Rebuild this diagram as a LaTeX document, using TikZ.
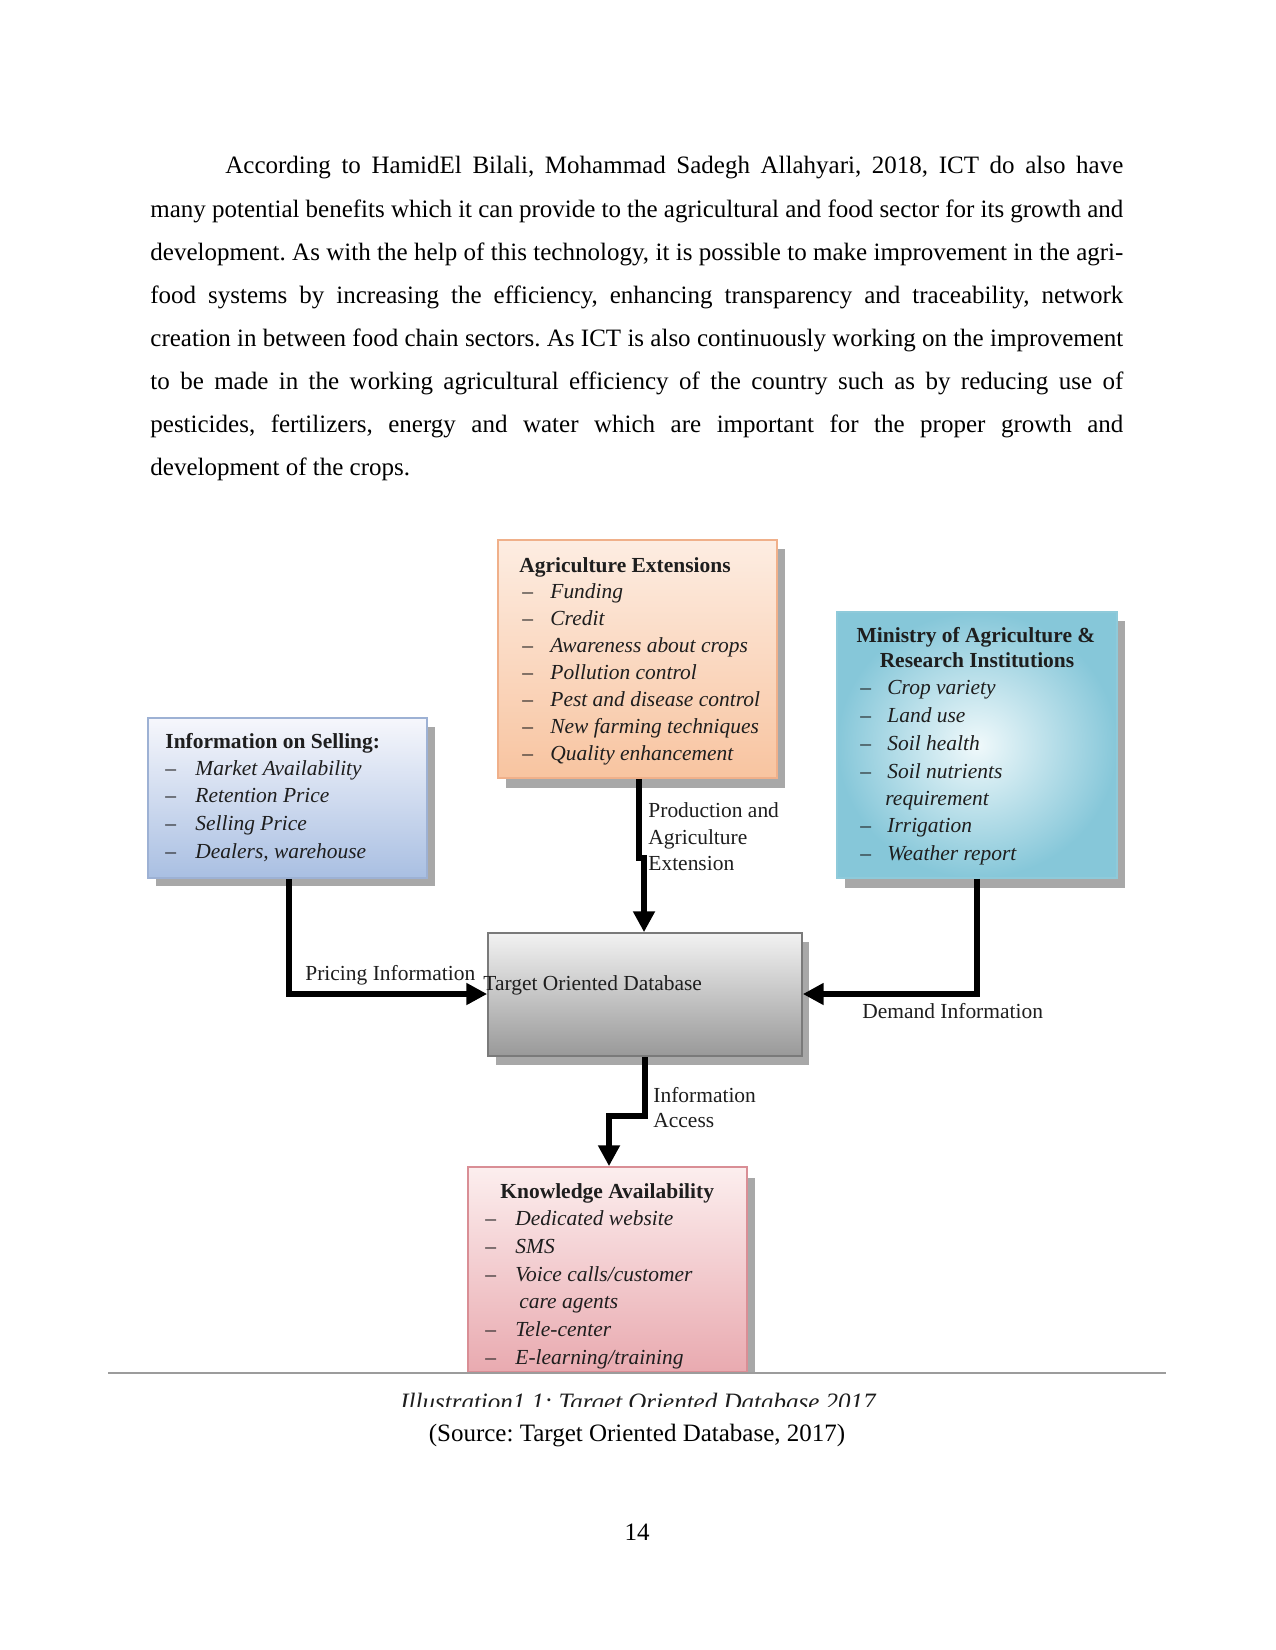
\documentclass[tikz,border=0pt]{standalone}
\usepackage{fontspec}
\setmainfont{Liberation Serif}
\usetikzlibrary{arrows.meta,fit,calc}

\definecolor{agtop}{HTML}{FDEDE2}
\definecolor{agbot}{HTML}{F8C4A0}
\definecolor{agbd}{HTML}{F0B08A}
\definecolor{mininner}{HTML}{F0F9FB}
\definecolor{minouter}{HTML}{86C7D9}
\definecolor{minbd}{HTML}{8FCADA}
\definecolor{seltop}{HTML}{F6F7FC}
\definecolor{selbot}{HTML}{A9BFE2}
\definecolor{selbd}{HTML}{9DB1D4}
\definecolor{todtop}{HTML}{F2F2F2}
\definecolor{todbot}{HTML}{999999}
\definecolor{todbd}{HTML}{7A7A7A}
\definecolor{kntop}{HTML}{FCEEEE}
\definecolor{knbot}{HTML}{E9AAB0}
\definecolor{knbd}{HTML}{D98E95}
\definecolor{shadowc}{HTML}{A8A8A8}
\definecolor{framec}{HTML}{9C9C9C}
\definecolor{ink}{HTML}{1E1E1E}

\newcommand\itdash[1]{\makebox[#1][l]{–}}
\frenchspacing

\tikzset{
  ptext/.style={inner sep=0pt, anchor=base west, font=\fontsize{12}{14.4}\selectfont, text=black},
  ttl/.style={inner sep=0pt, anchor=base west, font=\fontsize{10.3}{12}\selectfont\bfseries, text=ink},
  itm/.style={inner sep=0pt, anchor=base west, font=\fontsize{10.3}{12}\selectfont\itshape, text=ink},
  lbl/.style={inner sep=0pt, anchor=base west, font=\fontsize{10.3}{12}\selectfont, text=ink},
  dbox/.style={inner sep=0pt, line width=0.8pt},
  conn/.style={line width=2.9pt, -{Triangle[width=10pt,length=10pt]}},
}

\begin{document}
\begin{tikzpicture}[x=0.48pt,y=-0.48pt]
\fill[white] (0,0) rectangle (1275,1650);
\useasboundingbox (0,0) rectangle (1275,1650);

% ---------------- paragraph ----------------
\node[ptext] (p1) at (225,174.0) {\makebox[431pt][s]{According to HamidEl Bilali, Mohammad Sadegh Allahyari, 2018, ICT do also have}};
\node[ptext] (p2) at (150,217.1) {\makebox[467pt][s]{many potential benefits which it can provide to the agricultural and food sector for its growth and}};
\node[ptext] (p3) at (150,260.2) {\makebox[467pt][s]{development. As with the help of this technology, it is possible to make improvement in the agri-}};
\node[ptext] (p4) at (150,303.3) {\makebox[467pt][s]{food systems by increasing the efficiency, enhancing transparency and traceability, network}};
\node[ptext] (p5) at (150,346.4) {\makebox[467pt][s]{creation in between food chain sectors. As ICT is also continuously working on the improvement}};
\node[ptext] (p6) at (150,389.5) {\makebox[467pt][s]{to be made in the working agricultural efficiency of the country such as by reducing use of}};
\node[ptext] (p7) at (150,432.6) {\makebox[467pt][s]{pesticides, fertilizers, energy and water which are important for the proper growth and}};
\node[ptext] (p8) at (150,475.7) {development of the crops.};

% ---------------- shadows ----------------
\fill[shadowc] (506,549) rectangle (785,788);
\fill[shadowc] (845,621) rectangle (1125,888);
\fill[shadowc] (156,727) rectangle (435,886);
\fill[shadowc] (496,942) rectangle (809,1065);
\fill[shadowc] (476,1178) rectangle (755,1372);

% ---------------- boxes ----------------
\node[dbox, draw=agbd, top color=agtop, bottom color=agbot, fit={(498,540) (777,778)}] (ag) {};
\node[dbox, draw=minbd, inner color=mininner, outer color=minouter, fit={(837,612) (1117,878)}] (min) {};
\node[dbox, draw=selbd, top color=seltop, bottom color=selbot, fit={(148,718) (427,878)}] (sel) {};
\node[dbox, draw=todbd, top color=todtop, bottom color=todbot, fit={(488,933) (802,1056)}] (tod) {};
\node[dbox, draw=knbd, top color=kntop, bottom color=knbot, fit={(468,1167) (747,1372)}] (kn) {};

% ---------------- box texts ----------------
\node[ttl] (agt) at (519,572) {Agriculture Extensions};
\foreach \t [count=\i] in {Funding,Credit,Awareness about crops,Pollution control,Pest and disease control,New farming techniques,Quality enhancement}
  \node[itm] (ag-\i) at (522,{598+27*(\i-1)}) {\itdash{13.44pt}\t};

\node[ttl, anchor=base] (mint1) at (976,642) {Ministry of Agriculture \&};
\node[ttl, anchor=base] (mint2) at (977,667) {Research Institutions};
\node[itm] (min-1) at (860,694) {\itdash{12.96pt}Crop variety};
\node[itm] (min-2) at (860,722) {\itdash{12.96pt}Land use};
\node[itm] (min-3) at (860,750) {\itdash{12.96pt}Soil health};
\node[itm] (min-4) at (860,778) {\itdash{12.96pt}Soil nutrients};
\node[itm] (min-4b) at (885,805) {requirement};
\node[itm] (min-5) at (860,832) {\itdash{12.96pt}Irrigation};
\node[itm] (min-6) at (860,860) {\itdash{12.96pt}Weather report};

\node[ttl] (selt) at (165,748) {Information on Selling:};
\foreach \t [count=\i] in {Market Availability,Retention Price,Selling Price,{Dealers, warehouse}}
  \node[itm] (sel-\i) at (165,{775+27.7*(\i-1)}) {\itdash{14.4pt}\t};

\node[lbl] (todt) at (483,990) {Target Oriented Database};

\node[ttl] (knt) at (500,1198) {Knowledge Availability};
\node[itm] (kn-1) at (485,1225) {\itdash{14.4pt}Dedicated website};
\node[itm] (kn-2) at (485,1253) {\itdash{14.4pt}SMS};
\node[itm] (kn-3) at (485,1281) {\itdash{14.4pt}Voice calls/customer};
\node[itm] (kn-3b) at (519,1308) {care agents};
\node[itm] (kn-4) at (485,1336) {\itdash{14.4pt}Tele-center};
\node[itm] (kn-5) at (485,1364) {\itdash{14.4pt}E-learning/training};

% ---------------- connectors ----------------
\coordinate (j1) at (639,858);
\coordinate (j2) at (644,858);
\draw[conn] (j1 |- ag.south) -- (j1) -- (j2) -- (j2 |- tod.north);

\coordinate (lp) at (289,994);
\draw[conn] (lp |- sel.south) -- (lp) -- (tod.west |- lp);

\coordinate (rp) at (977,994);
\draw[conn] (rp |- min.south) -- (rp) -- (tod.east |- rp);

\coordinate (b1) at (645,1116);
\coordinate (b2) at (609,1116);
\draw[conn] (b1 |- tod.south) -- (b1) -- (b2) -- (b2 |- kn.north);

% ---------------- connector labels ----------------
\node[lbl] (l1a) at (648,817) {Production and};
\node[lbl] (l1b) at (648,844) {Agriculture};
\node[lbl] (l1c) at (648,870) {Extension};
\node[lbl] (l2) at (305,980) {Pricing Information};
\node[lbl] (l3) at (862,1018) {Demand Information};
\node[lbl] (l4a) at (653,1102) {Information};
\node[lbl] (l4b) at (653,1127) {Access};

% ---------------- frame line and captions ----------------
\draw[framec, line width=1pt] (108,1373) -- (1166,1373);
\begin{scope}
  \clip (0,1380) rectangle (1275,1406);
  \node[ptext, anchor=base, font=\fontsize{12}{14.4}\selectfont\itshape, text=ink] (cap) at (638,1410) {Illustration1 1: Target Oriented Database 2017};
\end{scope}
\node[ptext, anchor=base] (src) at (637,1441) {(Source: Target Oriented Database, 2017)};
\node[ptext, anchor=base] (pg) at (637,1540) {14};
\end{tikzpicture}
\end{document}
